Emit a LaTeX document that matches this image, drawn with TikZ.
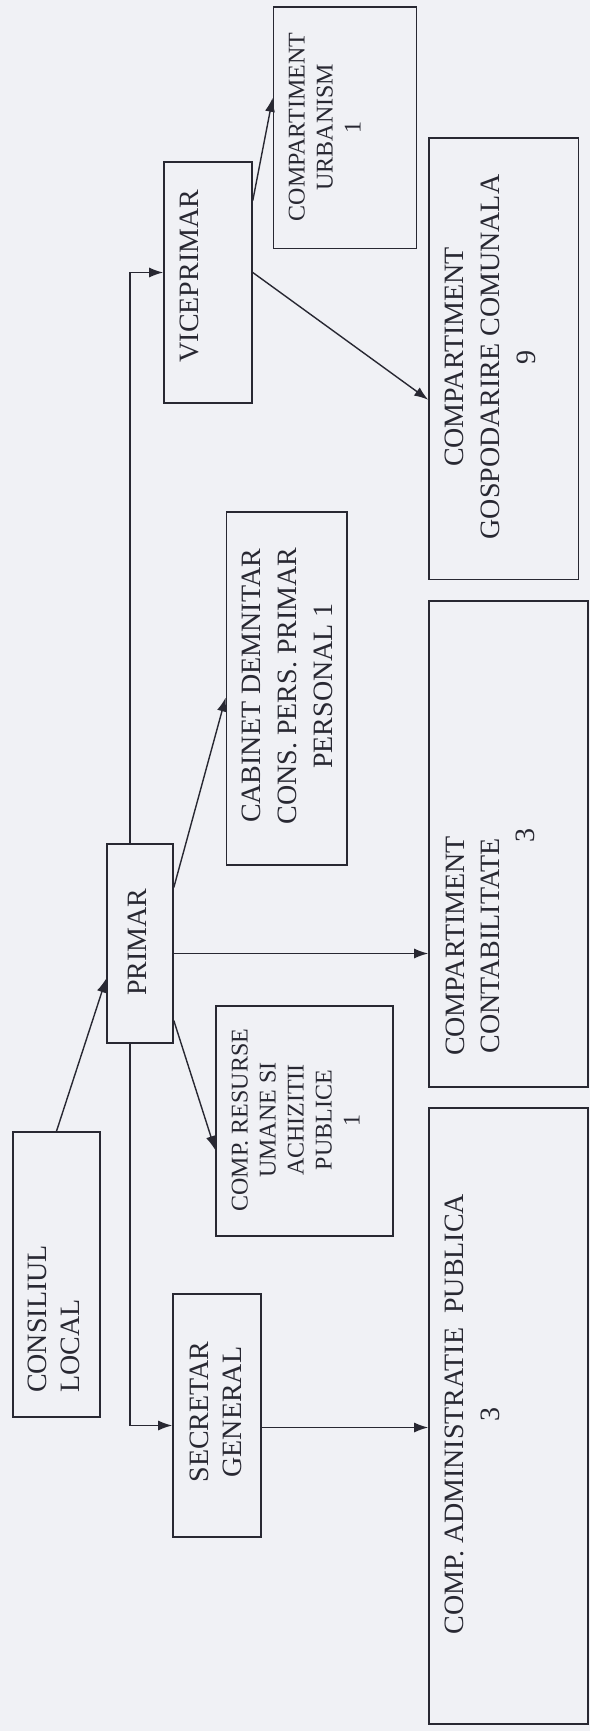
\documentclass[tikz,border=0pt]{standalone}
\usepackage{fontspec}
\setmainfont{Liberation Serif}
\usepackage{graphicx}
\usetikzlibrary{shapes,arrows.meta,positioning,calc}

\definecolor{paper}{RGB}{240,241,245}
\definecolor{ink}{RGB}{40,40,50}

% text scris de jos in sus
\newcommand{\vtxt}[2]{\rotatebox{90}{\begin{tabular}{@{}#1@{}}#2\end{tabular}}}

\begin{document}
\begin{tikzpicture}[x=0.5pt,y=-0.5pt]
  \tikzstyle{unit}=[rectangle, draw=ink, line width=0.8pt, inner sep=0pt]
  \tikzstyle{lbl}=[inner sep=0pt, text=ink, font=\fontsize{14}{16.5}\selectfont]
  \tikzstyle{small}=[font=\fontsize{12}{14}\selectfont]
  \tikzstyle{link}=[draw=ink, line width=0.7pt, -{Latex[length=7pt,width=5pt]}]

  \fill[paper] (0,0) rectangle (590,1731);

  % casete
  \node[unit, minimum width=43.5pt, minimum height=142.5pt] (consiliul) at (56.5,1274.5) {};
  \node[unit, minimum width=33pt, minimum height=99.5pt] (primar) at (140,943.5) {};
  \node[unit, minimum width=44pt, minimum height=121.5pt] (secretar) at (217,1415.5) {};
  \node[unit, minimum width=88.5pt, minimum height=115pt] (resurse) at (304.5,1121) {};
  \node[unit, minimum width=60.25pt, minimum height=176.5pt] (cabinet) at (286.75,688.5) {};
  \node[unit, minimum width=44pt, minimum height=120.5pt] (vice) at (208,282.5) {};
  \node[unit, minimum width=71.5pt, minimum height=120.75pt] (urbanism) at (345,127.75) {};
  \node[unit, minimum width=74.75pt, minimum height=220.75pt] (gosp) at (503.75,358.75) {};
  \node[unit, minimum width=79.5pt, minimum height=243pt] (contab) at (508.5,844) {};
  \node[unit, minimum width=79.5pt, minimum height=308pt] (admin) at (508.5,1416) {};

  % texte
  \node[lbl] (consiliul-t) at (56,1319) {\vtxt{l}{CONSILIUL\\LOCAL}};
  \node[lbl] (primar-t) at (140,942) {\vtxt{c}{PRIMAR}};
  \node[lbl] (secretar-t) at (218,1412) {\vtxt{c}{SECRETAR\\GENERAL}};
  \node[lbl, small] (resurse-t) at (298,1120) {\vtxt{c}{COMP. RESURSE\\UMANE SI\\ACHIZITII\\PUBLICE\\1}};
  \node[lbl, font=\fontsize{14}{18}\selectfont] (cabinet-t) at (289,686) {\vtxt{c}{CABINET DEMNITAR\\CONS. PERS. PRIMAR\\PERSONAL 1}};
  \node[lbl] (vice-t) at (192,276) {\vtxt{c}{VICEPRIMAR}};
  \node[lbl, small] (urbanism-t) at (327,127) {\vtxt{c}{COMPARTIMENT\\URBANISM\\1}};
  \node[lbl, font=\fontsize{14}{18}\selectfont] (gosp-t) at (492,357) {\vtxt{c}{COMPARTIMENT\\GOSPODARIRE COMUNALA\\9}};
  \node[lbl, font=\fontsize{14}{17.5}\selectfont] (contab-t) at (492,946) {\vtxt{c}{COMPARTIMENT\\CONTABILITATE\\\multicolumn{1}{@{}r@{}}{3\hspace*{-4pt}}}};
  \node[lbl, font=\fontsize{14}{18}\selectfont] (admin-t) at (474,1414) {\vtxt{c}{COMP. ADMINISTRATIE\ \ PUBLICA\\3}};

  % legaturi
  \draw[link] (consiliul.north) -- ($(primar.west)+(0,35)$);
  \draw[link] ($(primar.north)+(-10,0)$) |- ($(vice.west)+(0,-10)$);
  \draw[link] ($(primar.south)+(-10,0)$) |- ($(secretar.west)+(0,10)$);
  \draw[link] ($(primar.east)+(0,-56)$) -- ($(cabinet.west)+(0,9)$);
  \coordinate (pc) at ($(primar.east)+(0,10)$);
  \draw[link] (pc) -- (pc -| contab.west);
  \draw[link] ($(primar.east)+(0,77)$) -- ($(resurse.west)+(0,29)$);
  \draw[link] ($(vice.east)+(0,-82)$) -- ($(urbanism.west)+(0,-30)$);
  \draw[link] ($(vice.east)+(0,-10)$) -- ($(gosp.west)+(0,41)$);
  \coordinate (sa) at ($(secretar.east)+(0,12)$);
  \draw[link] (sa) -- (sa -| admin.west);
\end{tikzpicture}
\end{document}
